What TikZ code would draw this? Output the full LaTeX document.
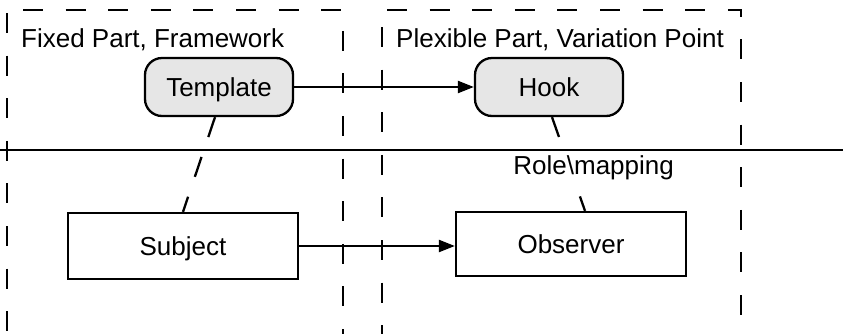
\documentclass[tikz,border=0pt]{standalone}
\usepackage{fontspec}
\setmainfont{Liberation Sans}
\usetikzlibrary{arrows.meta,calc}
\definecolor{rolefill}{RGB}{230,230,230}
\begin{document}
\begin{tikzpicture}[x=1pt,y=-1pt,
  every node/.style={font=\fontsize{26}{30}\selectfont},
  frame/.style={line width=2.3pt, dash pattern=on 20pt off 22.6pt},
  rolebox/.style={draw, line width=2.3pt, fill=rolefill, rounded corners=17pt,
    minimum width=148pt, minimum height=58pt, inner sep=0pt,
    text height=18.6pt, text depth=0pt},
  classbox/.style={draw, line width=2.3pt, fill=white,
    minimum width=230pt, minimum height=66pt, inner sep=0pt,
    text height=18.6pt, text depth=0pt},
  link/.style={line width=2.3pt, -{Triangle[length=16pt,width=12pt]}},
  rolemap/.style={line width=2.3pt, dash pattern=on 21pt off 21pt},
  title/.style={anchor=base west, inner sep=0pt},
]
\useasboundingbox (0,0) rectangle (843,333);
\clip (0,0) rectangle (843,333);

% framework (fixed) region
\draw[frame, dash phase=26.6] (7,10) -- (343,10) -- (343,345);
\draw[frame, dash phase=39.6] (7,10) -- (7,345);
% variation point (flexible) region
\draw[frame, dash phase=37.6] (382,10) -- (741,10) -- (741,345);
\draw[frame, dash phase=25.6] (382,10) -- (382,345);

% divider between the pattern level and the class level
\draw[line width=2.3pt] (0,150) -- (843,150);

\node[title] (fixedlbl) at (21,47) {Fixed Part, Framework};
\node[title] (flexlbl) at (396,47) {Plexible Part, Variation Point};

\node[rolebox] (tpl) at (219,87) {Template};
\node[rolebox] (hook) at (549,87) {Hook};
\node[classbox] (subj) at (183,246) {Subject};
\node[classbox, minimum height=64pt] (obs) at (571,244) {Observer};

\draw[link] (tpl) -- (hook);
\draw[link] (subj.east) -- (subj.east -| obs.west);

\draw[rolemap] ([xshift=-4pt]tpl.south) -- (subj.north);
\draw[rolemap] ([xshift=3pt]hook.south) --
  node[pos=0.52, anchor=base, xshift=24.5pt, yshift=-9pt, fill=white, inner sep=1pt] (maplbl) {Role\textbackslash mapping}
  ([xshift=14pt]obs.north);
\end{tikzpicture}
\end{document}
